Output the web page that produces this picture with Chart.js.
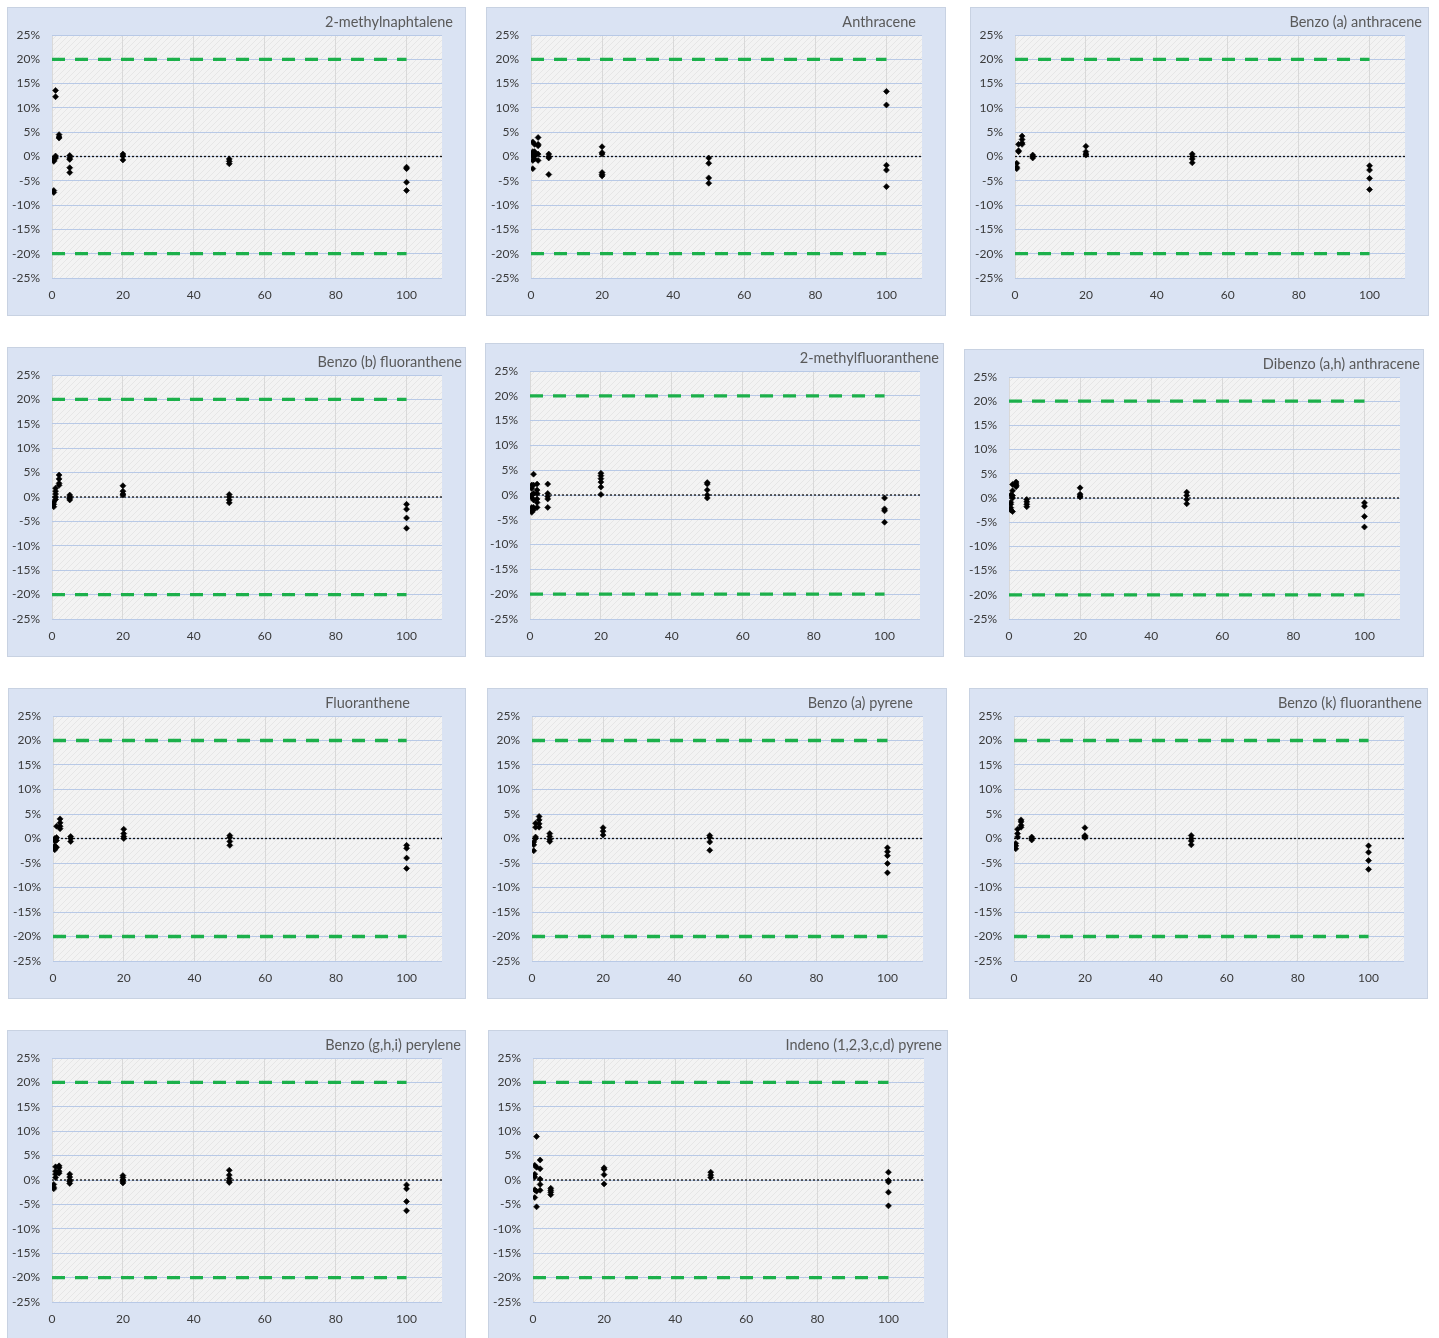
<!DOCTYPE html>
<html>
<head>
<meta charset="utf-8">
<script src="https://cdn.jsdelivr.net/npm/chart.js@4.4.1/dist/chart.umd.min.js"></script>
<style>
  body { margin: 0; background: #fff; }
  #page { position: relative; width: 1439px; height: 1338px; overflow: hidden; }
  .panel { position: absolute; background: #dae3f3; box-shadow: inset 0 0 0 1px #c8d2e2; }
  .panel canvas { position: absolute; left: 0; top: 0; }
  .panel .title { position: absolute; top: 6px; font: 14.5px Lato, sans-serif; line-height: 17px; color: #595959; white-space: nowrap; }
</style>
</head>
<body>
<div id="page"></div>
<script>
// concentration levels on the x axis
var LEVELS = [0.5, 1, 2, 5, 20, 50, 100];

// deviation in %, one inner array per level
var methylnaphtalene = [[-0.5, -0.8, -1.0, -7.0, -7.4], [13.6, 12.3, 0.1, -0.3], [4.5, 4.0, 3.8], [0.2, -0.3, -0.6, -2.3, -3.3], [0.5, 0.1, -0.7], [-0.5, -1.0, -1.5], [-2.2, -2.5, -5.3, -7.0]];
var anthracene = [[3.0, 1.0, 0.5, 0, -0.8, -2.5], [2.5, 1.0, 0.5, 0.2, -0.5], [3.9, 2.5, 2.2, 0.5, -0.8], [0.5, 0, -0.3, -3.7], [2.0, 0.8, 0.5, -3.3, -3.7, -4.0], [-0.3, -1.4, -4.4, -5.5], [13.4, 10.6, -1.8, -2.8, -6.2]];
var benzoAAnthracene = [[-1.4, -2.2, -2.5], [2.5, 1.2, 1.0], [4.2, 3.5, 2.8, 2.5], [0.3, 0, -0.3], [2.1, 1.0, 0.5, 0.3], [0.5, 0, -0.5, -1.3], [-1.9, -2.8, -4.5, -6.8]];
var benzoBFluoranthene = [[-1.0, -1.5, -2.0], [1.8, 1.2, 0.6, 0, -0.5], [4.5, 3.7, 2.8, 2.4], [0.4, 0, -0.3, -0.6], [2.3, 1.2, 0.6, 0.4], [0.5, 0, -0.6, -1.2], [-1.5, -2.5, -4.3, -6.4]];
var methylfluoranthene = [[2.0, 1.3, 0, -0.5, -2.5, -3.2, -3.5], [4.2, 2.0, 0.3, -1.0, -2.5, -3.0], [2.2, 1.0, 0.3, -0.8, -1.5, -2.5], [2.2, 0.3, -0.3, -0.8, -2.5], [4.4, 3.9, 3.3, 2.6, 1.6, 0.1], [2.5, 2.2, 1.0, 0, -0.6], [-0.6, -2.8, -3.2, -5.5]];
var dibenzoAHAnthracene = [[0.6, -0.9, -1.3, -2.0, -2.5], [2.8, 1.5, 0.5, 0, -2.8], [3.3, 2.9, 2.6, 2.3], [-0.3, -0.8, -1.3, -1.8], [2.1, 0.8, 0.4, 0.2], [1.2, 0.5, -0.3, -1.2], [-1.0, -1.7, -3.8, -6.0]];
var fluoranthene = [[0, -0.5, -1.5, -2.0, -2.3], [2.5, 0.2, -0.4, -1.8], [4.0, 3.2, 2.5, 2.0], [0.4, 0, -0.6], [1.9, 1.0, 0.4, 0], [0.6, 0.2, -0.6, -1.4], [-1.4, -2.0, -4.0, -6.1]];
var benzoAPyrene = [[-0.7, -1.3, -2.5], [3.1, 2.3, 0.3, 0], [4.5, 3.8, 3.0, 2.3], [1.0, 0.4, -0.2, -0.6], [2.2, 1.5, 0.7], [0.6, 0.2, -0.7, -2.4], [-1.9, -2.7, -3.5, -5.1, -7.0]];
var benzoKFluoranthene = [[-1.0, -1.5, -2.1], [1.9, 1.0, 0.3], [3.8, 3.4, 2.7, 2.3], [0.3, 0, -0.3], [2.2, 0.6, 0.4, 0.2], [0.6, 0, -0.5, -1.3], [-1.5, -2.8, -4.5, -6.3]];
var benzoGHIPerylene = [[-0.9, -1.5, -1.8], [2.7, 1.8, 1.2, 0.5], [2.9, 2.5, 1.8, 1.4], [1.2, 0.6, 0, -0.3, -0.7], [0.9, 0.5, 0, -0.3, -0.6], [2.0, 1.0, 0.3, -0.2, -0.5], [-1.0, -1.8, -4.4, -6.3]];
var indenoPyrene = [[3.0, 1.2, 0.6, -2.0, -3.6], [8.9, 2.6, -2.3, -5.5], [4.1, 2.3, 0.2, -0.9, -2.1], [-1.7, -2.1, -2.5, -3.0], [2.5, 2.2, 1.1, -0.8], [1.6, 1.0, 0.5], [1.6, -0.1, -0.4, -2.5, -5.3]];

var TITLES = ["2-methylnaphtalene", "Anthracene", "Benzo (a) anthracene",
              "Benzo (b) fluoranthene", "2-methylfluoranthene", "Dibenzo (a,h) anthracene",
              "Fluoranthene", "Benzo (a) pyrene", "Benzo (k) fluoranthene",
              "Benzo (g,h,i) perylene", "Indeno (1,2,3,c,d) pyrene"];
var SERIES = [methylnaphtalene, anthracene, benzoAAnthracene,
              benzoBFluoranthene, methylfluoranthene, dibenzoAHAnthracene,
              fluoranthene, benzoAPyrene, benzoKFluoranthene,
              benzoGHIPerylene, indenoPyrene];

var LIMIT = 20;       // acceptance band, +/- %
var X_MAX = 110;
var X_LIMIT_END = 100;

// panel boxes: left, top, width, height, title right margin
var PANELS = [
    [7, 7, 459, 309, 13], [486, 7, 460, 309, 30], [970, 7, 459, 309, 7],
    [7, 347, 459, 310, 4], [485, 343, 459, 314, 5], [964, 349, 460, 308, 4],
    [8, 688, 458, 311, 56], [487, 688, 460, 311, 34], [969, 688, 459, 311, 6],
    [7, 1030, 459, 310, 5], [488, 1030, 460, 310, 6]
];
var INSET = { left: 45, top: 28, right: 24, bottom: 38 };

var GREEN = "#1cb04b";
var TICK_COLOR = "#3a3a3a";

// light hatched fill behind the plot area
function makeHatch() {
    var c = document.createElement("canvas");
    c.width = 6; c.height = 6;
    var x = c.getContext("2d");
    x.fillStyle = "#f3f3f3";
    x.fillRect(0, 0, 6, 6);
    x.strokeStyle = "#e6e6e6";
    x.lineWidth = 1;
    x.beginPath();
    x.moveTo(0, 6); x.lineTo(6, 0);
    x.stroke();
    return x.createPattern(c, "repeat");
}
var hatch = makeHatch();

var plotBg = {
    id: "plotBg",
    beforeDraw: function (chart) {
        var a = chart.chartArea;
        var ctx = chart.ctx;
        ctx.save();
        ctx.fillStyle = hatch;
        ctx.fillRect(a.left, a.top, a.right - a.left, a.bottom - a.top);
        ctx.restore();
    }
};

var page = document.getElementById("page");

SERIES.forEach(function (levels, i) {
    var box = PANELS[i];
    var div = document.createElement("div");
    div.className = "panel";
    div.style.left = box[0] + "px";
    div.style.top = box[1] + "px";
    div.style.width = box[2] + "px";
    div.style.height = box[3] + "px";

    var canvas = document.createElement("canvas");
    canvas.width = box[2];
    canvas.height = box[3];
    div.appendChild(canvas);

    var title = document.createElement("div");
    title.className = "title";
    title.style.right = box[4] + "px";
    title.textContent = TITLES[i];
    div.appendChild(title);
    page.appendChild(div);

    var points = [];
    levels.forEach(function (vals, j) {
        vals.forEach(function (v) {
            points.push({ x: LEVELS[j], y: v });
        });
    });

    new Chart(canvas.getContext("2d"), {
        type: "scatter",
        data: {
            datasets: [{
                data: points,
                pointStyle: "rectRot",
                pointRadius: 3,
                backgroundColor: "#000",
                borderColor: "#000",
                borderWidth: 0.6
            }, {
                type: "line",
                data: [{ x: 0, y: 0 }, { x: X_MAX, y: 0 }],
                borderColor: "#111",
                borderWidth: 1.3,
                borderDash: [2, 2],
                pointRadius: 0
            }, {
                type: "line",
                data: [{ x: 0, y: LIMIT }, { x: X_LIMIT_END, y: LIMIT }],
                borderColor: GREEN,
                borderWidth: 3.3,
                borderDash: [13, 10],
                pointRadius: 0
            }, {
                type: "line",
                data: [{ x: 0, y: -LIMIT }, { x: X_LIMIT_END, y: -LIMIT }],
                borderColor: GREEN,
                borderWidth: 3.3,
                borderDash: [13, 10],
                pointRadius: 0
            }]
        },
        options: {
            responsive: false,
            animation: false,
            devicePixelRatio: 1,
            layout: { padding: { left: 0, top: INSET.top, right: INSET.right, bottom: 0 } },
            plugins: {
                legend: { display: false },
                tooltip: { enabled: false }
            },
            scales: {
                x: {
                    type: "linear",
                    min: 0,
                    max: X_MAX,
                    afterFit: function (s) { s.height = INSET.bottom; },
                    border: { display: false },
                    grid: { color: "#d9d9d9", drawTicks: false },
                    ticks: {
                        stepSize: 20,
                        includeBounds: false,
                        padding: 10,
                        maxRotation: 0,
                        color: TICK_COLOR,
                        font: { family: "Lato", size: 12 }
                    }
                },
                y: {
                    min: -25,
                    max: 25,
                    afterFit: function (s) { s.width = INSET.left; },
                    border: { display: false },
                    grid: { color: "#b8c9e6", drawTicks: false },
                    ticks: {
                        stepSize: 5,
                        padding: 12,
                        color: TICK_COLOR,
                        font: { family: "Lato", size: 12 },
                        callback: function (v) { return v + "%"; }
                    }
                }
            }
        },
        plugins: [plotBg]
    });
});
</script>
</body>
</html>
